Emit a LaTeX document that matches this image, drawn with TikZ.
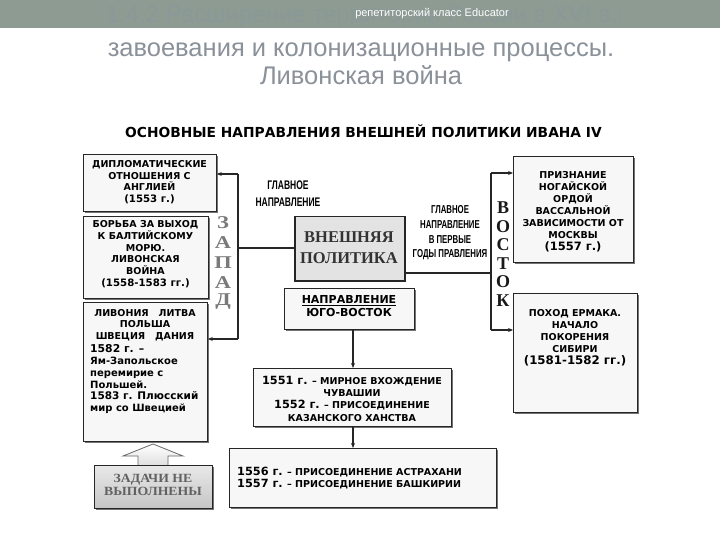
\documentclass[tikz,border=0pt]{standalone}
\usepackage{fontspec}
\setmainfont{DejaVu Sans}
\newfontfamily\lsans{Liberation Sans}
\newfontfamily\lserif{Liberation Serif}
\newfontfamily\wserif[FakeStretch=1.25]{Liberation Serif}
\newfontfamily\zserif[FakeStretch=1.1]{Liberation Serif}
\newfontfamily\narrow[FakeStretch=0.68]{Liberation Sans}
\usetikzlibrary{shadows,arrows.meta}
\definecolor{barc}{RGB}{142,155,147}
\definecolor{hidc}{RGB}{138,152,152}
\definecolor{titc}{RGB}{138,145,153}
\newcommand{\yr}[1]{{\fontsize{11.3}{12}\selectfont #1}}
\begin{document}
\begin{tikzpicture}[x=1pt,y=-1pt,
 box/.style={draw=black!85, line width=0.8pt, fill=gray!6, drop shadow={shadow xshift=1.6pt,shadow yshift=-1.6pt,fill=black!55,opacity=1}, anchor=north west, inner sep=0pt},
 bt/.style={font=\bfseries\fontsize{9.5}{11.7}\selectfont, align=center, inner sep=0pt},
 conn/.style={line width=1.3pt, draw=black!85},
 arr/.style={conn, -{Stealth[length=5pt,width=4pt]}},
 lab/.style={font=\narrow\bfseries\fontsize{12.5}{17}\selectfont, align=center, inner sep=0pt},
 wl/.style={font=\wserif\bfseries\fontsize{18}{18}\selectfont, text=black!52, inner sep=0pt},
 el/.style={font=\lserif\bfseries\fontsize{18}{18}\selectfont, text=black!90, inner sep=0pt},
]
\useasboundingbox (0,0) rectangle (720,540);
\fill[white] (0,0) rectangle (720,540);
% top bar
\fill[barc] (0,0) rectangle (720,28);
\node[font=\lsans\fontsize{24}{24}\selectfont, text=hidc, inner sep=0pt] (hid) at (365,17) {1.4.2 Расширение территории России в XVI в.:};
\node[font=\lsans\fontsize{11}{11}\selectfont, text=white, inner sep=0pt] (edu) at (432,14) {репетиторский класс Educator};
\node[font=\lsans\fontsize{25.5}{25.5}\selectfont, text=titc, anchor=base, inner sep=0pt] (t1) at (361,57) {завоевания и колонизационные процессы.};
\node[font=\lsans\fontsize{25.5}{25.5}\selectfont, text=titc, anchor=base, inner sep=0pt] (t2) at (361,85) {Ливонская война};
% diagram title
\node[font=\bfseries\fontsize{13.8}{13.8}\selectfont, anchor=base, inner sep=0pt] (dt) at (363.5,138) {ОСНОВНЫЕ НАПРАВЛЕНИЯ ВНЕШНЕЙ ПОЛИТИКИ ИВАНА IV};

% boxes
\node[box, minimum width=133pt, minimum height=57pt] (dip) at (83,154) {};
\node[box, minimum width=125pt, minimum height=82pt] (bor) at (83,216) {};
\node[box, minimum width=124pt, minimum height=139pt] (liv) at (83,302) {};
\node[box, minimum width=110pt, minimum height=64pt, fill=gray!22, line width=1.5pt] (vp) at (294,216) {};
\node[box, minimum width=120pt, minimum height=106pt] (ntop) at (513,156) {};
\node[box, minimum width=124pt, minimum height=119pt] (nbot) at (513,293) {};
\node[box, minimum width=130pt, minimum height=41pt] (yv) at (284,288) {};
\node[box, minimum width=198pt, minimum height=58pt] (b51) at (253,368) {};
\node[box, minimum width=267pt, minimum height=59pt] (b56) at (229,448) {};

% texts
\node[bt] (dipt) at (149.5,182) {ДИПЛОМАТИЧЕСКИЕ\\ОТНОШЕНИЯ С\\АНГЛИЕЙ\\{\fontsize{10.2}{11.7}\selectfont (1553 г.)}};
\node[bt] (bort) at (145.5,254) {БОРЬБА ЗА ВЫХОД\\К БАЛТИЙСКОМУ\\МОРЮ.\\ЛИВОНСКАЯ\\ВОЙНА\\{\fontsize{10.2}{11.7}\selectfont (1558-1583 гг.)}};
\node[bt, anchor=north, font=\bfseries\fontsize{9.5}{11.2}\selectfont] (livh) at (145,309.5) {ЛИВОНИЯ\ \ \ ЛИТВА\\ПОЛЬША\\ШВЕЦИЯ\ \ \ ДАНИЯ};
\node[bt, align=left, anchor=north west, font=\bfseries\fontsize{10}{11.8}\selectfont] (livt) at (90,344.5) {{\fontsize{10.8}{11.8}\selectfont 1582 г. –}\\
Ям-Запольское\\перемирие с\\Польшей.\\
{\fontsize{10.5}{11.8}\selectfont 1583 г. Плюсский}\\
мир со Швецией};
\node[font=\lserif\bfseries\fontsize{16.5}{21}\selectfont, text=black!80, align=center, inner sep=0pt] (vpt) at (349,248) {ВНЕШНЯЯ\\ПОЛИТИКА};
\node[bt, font=\bfseries\fontsize{9.5}{12}\selectfont] (ntopt) at (573,212) {ПРИЗНАНИЕ\\НОГАЙСКОЙ\\ОРДОЙ\\ВАССАЛЬНОЙ\\ЗАВИСИМОСТИ ОТ\\МОСКВЫ\\{\fontsize{11.5}{12}\selectfont (1557 г.)}};
\node[bt, font=\bfseries\fontsize{9.5}{12}\selectfont] (nbott) at (575,338) {ПОХОД ЕРМАКА.\\НАЧАЛО\\ПОКОРЕНИЯ\\СИБИРИ\\{\fontsize{11.8}{12}\selectfont (1581-1582 гг.)}};
\node[bt, font=\bfseries\fontsize{11}{13}\selectfont] (yvt) at (349,306) {\underline{НАПРАВЛЕНИЕ}\\ЮГО-ВОСТОК};
\node[bt, font=\bfseries\fontsize{9.5}{12.3}\selectfont] (b51t) at (352,398.5) {\yr{1551 г.} – МИРНОЕ ВХОЖДЕНИЕ\\ЧУВАШИИ\\\yr{1552 г.} – ПРИСОЕДИНЕНИЕ\\КАЗАНСКОГО ХАНСТВА};
\node[bt, align=left, anchor=west, font=\bfseries\fontsize{9.5}{12.3}\selectfont] (b56t) at (237,478) {\yr{1556 г.} – ПРИСОЕДИНЕНИЕ АСТРАХАНИ\\\yr{1557 г.} – ПРИСОЕДИНЕНИЕ БАШКИРИИ};

% labels
\node[lab] (gl1) at (288,193.5) {ГЛАВНОЕ\\НАПРАВЛЕНИЕ};
\node[lab, font=\narrow\bfseries\fontsize{11.5}{14.7}\selectfont] (gl2) at (450,233) {ГЛАВНОЕ\\НАПРАВЛЕНИЕ\\В ПЕРВЫЕ\\ГОДЫ ПРАВЛЕНИЯ};

% west letters
\node[wl] (z1) at (223,223) {З};
\node[wl] (z2) at (223,243) {А};
\node[wl] (z3) at (223,263) {П};
\node[wl] (z4) at (223,283) {А};
\node[wl] (z5) at (223,302) {Д};
% east letters
\node[el] (v1) at (503,208) {В};
\node[el] (v2) at (503,226.5) {О};
\node[el] (v3) at (503,245) {С};
\node[el] (v4) at (503,263.5) {Т};
\node[el] (v5) at (503,282) {О};
\node[el] (v6) at (503,300.5) {К};

% west connectors
\coordinate (wt) at (238,174);
\coordinate (wm) at (238,248);
\coordinate (wb) at (238,339);
\draw[conn] (wt) -- (wb);
\draw[arr] (wt) -- (dip.east |- wt);
\draw[arr] (wb) -- (liv.east |- wb);
\draw[conn] (wm) -- (vp.west |- wm);
% east connectors
\coordinate (et) at (491,173);
\coordinate (em) at (491,273);
\coordinate (eb) at (491,330);
\draw[conn] (et) -- (eb);
\draw[conn] (vp.east |- em) -- (em);
\draw[arr] (et) -- (ntop.west |- et);
\draw[arr] (eb) -- (nbot.west |- eb);
% south
\coordinate (sx) at (353,0);
\draw[arr] (sx |- yv.south) -- (sx |- b51.north);
\draw[arr] (sx |- b51.south) -- (sx |- b56.north);

% tasks arrow
\draw[draw=black!60, line width=0.8pt, top color=white, bottom color=gray!25]
 (123,456) -- (153,444) -- (183,456) -- (168,456) -- (168,465.5) -- (138,465.5) -- (138,456) -- cycle;
\draw[draw=black!85, line width=1pt, top color=gray!18, bottom color=gray!45, drop shadow={shadow xshift=1.6pt,shadow yshift=-1.6pt,fill=black!55,opacity=1}]
 (94,465.5) rectangle (212,508);
\node[font=\zserif\bfseries\fontsize{12.5}{13.5}\selectfont, text=black!62, align=center, inner sep=0pt] (zad) at (153,485) {ЗАДАЧИ НЕ\\ВЫПОЛНЕНЫ};
\end{tikzpicture}
\end{document}
